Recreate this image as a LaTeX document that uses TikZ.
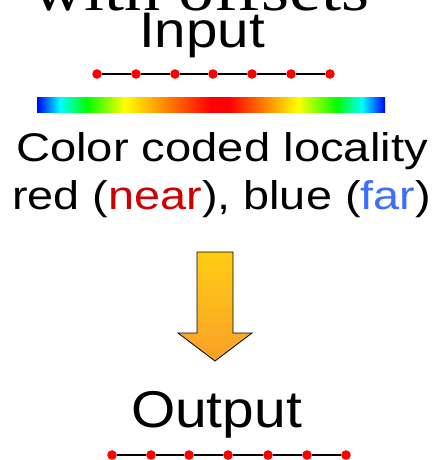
\documentclass[tikz,border=0pt]{standalone}
\usepackage{fontspec}
\setmainfont{Liberation Sans}
\newfontfamily\ttlserif{Liberation Serif}
\usepackage{tikz}

\definecolor{nearred}{RGB}{204,0,0}
\definecolor{farblue}{RGB}{60,110,255}
\definecolor{arrtop}{RGB}{255,205,20}
\definecolor{arrbot}{RGB}{250,160,40}

\pgfdeclarehorizontalshading{locality}{100bp}{%
  rgb(0bp)=(0,0,1); rgb(25bp)=(0,0,1); rgb(28.3bp)=(0,1,1); rgb(32.2bp)=(0,1,0);
  rgb(37.6bp)=(1,1,0); rgb(49.9bp)=(1,0,0); rgb(52.7bp)=(1,0,0); rgb(62.5bp)=(1,1,0);
  rgb(68.1bp)=(0,1,0); rgb(71.7bp)=(0,1,1); rgb(75bp)=(0,0,1); rgb(100bp)=(0,0,1)}

\begin{document}
\begin{tikzpicture}[x=0.75pt, y=-0.75pt,
    dot/.style={circle, fill=red, inner sep=0pt, minimum size=7.2pt},
    txt/.style={inner sep=0pt, anchor=base, transform shape}]
      \useasboundingbox (0, 0) rectangle (437, 460);
      \clip (0, 0) rectangle (437, 460);
      \node[txt, xscale=1.15] (title) at (201, 11) {\ttlserif\fontsize{47}{50}\selectfont with offsets};
      \node[txt, xscale=1.13] (input) at (202, 48) {\fontsize{37.5}{40}\selectfont Input};
      % input points
      \foreach \i [count=\k] in {97, 136, 175, 213, 252, 291, 330}
        \node[dot] (in\k) at (\i, 74) {};
      \foreach \k [evaluate=\k as \j using int(\k+1)] in {1, ..., 6}
        \draw[line width=2pt] (in\k) -- (in\j);
      \shade[shading=locality] (37, 97) rectangle (385, 112);
      \node[txt, xscale=1.18] (cap1) at (222, 161) {\fontsize{30}{32}\selectfont Color coded locality};
      \node[txt, xscale=1.17] (cap2) at (221.5, 209) {\fontsize{30}{32}\selectfont red (\textcolor{nearred}{near}), blue (\textcolor{farblue}{far})};
      \draw[line width=0.6pt, top color=arrtop, bottom color=arrbot]
        (197, 252) -- (233, 252) -- (233, 333) -- (252, 333) -- (215, 361)
        -- (178, 333) -- (197, 333) -- cycle;
      \node[txt, xscale=1.1] (output) at (216.5, 427) {\fontsize{38.8}{40}\selectfont Output};
      % output points
      \foreach \i [count=\k] in {112, 151, 189, 228, 268, 307, 346}
        \node[dot] (out\k) at (\i, 455) {};
      \foreach \k [evaluate=\k as \j using int(\k+1)] in {1, ..., 6}
        \draw[line width=2pt] (out\k) -- (out\j);
    \end{tikzpicture}
\end{document}
